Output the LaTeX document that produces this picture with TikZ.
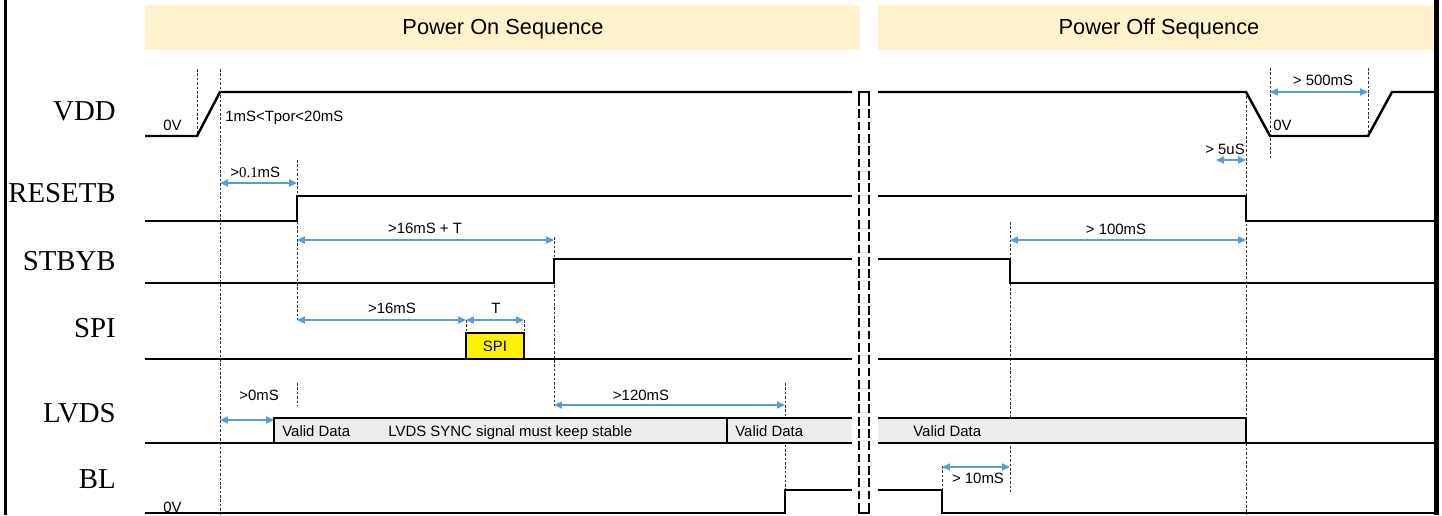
\documentclass[tikz,border=0pt]{standalone}
\usepackage{fontspec}
\setmainfont{Liberation Sans}
\newfontfamily\sigfont{Liberation Serif}
\usetikzlibrary{arrows.meta}
\definecolor{banner}{RGB}{255,242,204}
\definecolor{dimblue}{RGB}{91,155,213}
\definecolor{busgrey}{RGB}{236,236,236}

\begin{document}
\begin{tikzpicture}[x=0.02cm, y=-0.02cm,
    wave/.style={line width=1.4pt, line join=miter},
    guide/.style={line width=0.45pt, dash pattern=on 1.5pt off 1pt, black!80},
    dim/.style={{Triangle[length=4.5pt,width=4pt]}-{Triangle[length=4.5pt,width=4pt]}, dimblue, line width=0.9pt},
    sig/.style={anchor=base east, inner sep=0pt, font=\sigfont\fontsize{16.4}{18}\selectfont},
    lbl/.style={anchor=base, inner sep=0pt, font=\fontsize{8.5}{10}\selectfont},
    brk/.style={line width=1.1pt, dash pattern=on 5pt off 2pt}]
    \useasboundingbox (0,0) rectangle (1442,515);

    % frame and headers
    \draw[line width=2.2pt] (5.5,0) -- (5.5,515);
    \draw[line width=2.8pt] (1436.5,0) -- (1436.5,515);
    \fill[banner] (145,5) rectangle (860,50);
    \fill[banner] (878,5) rectangle (1434,50);
    \node[anchor=base, font=\fontsize{12.4}{14}\selectfont] at (503,34) (on) {Power On Sequence};
    \node[anchor=base, font=\fontsize{12.4}{14}\selectfont] at (1159,34) (off) {Power Off Sequence};

    % signal names
    \node[sig] at (116,120) (vdd) {VDD};
    \node[sig] at (116,202) (rst) {RESETB};
    \node[sig] at (116,270) (stb) {STBYB};
    \node[sig] at (116,337) (spi) {SPI};
    \node[sig] at (116,422) (lvds) {LVDS};
    \node[sig] at (116,488) (bl) {BL};

    % timing guides
    \draw[guide] (197,69) -- (197,136);
    \draw[guide] (220,69) -- (220,515);
    \draw[guide] (297,160) -- (297,320);
    \draw[guide] (297,383) -- (297,406);
    \draw[guide] (466,320) -- (466,333);
    \draw[guide] (524,320) -- (524,333);
    \draw[guide] (554,237) -- (554,406);
    \draw[guide] (785,383) -- (785,490);
    \draw[guide] (942,466) -- (942,490);
    \draw[guide] (1010,222) -- (1010,492);
    \draw[guide] (1246,92) -- (1246,515);
    \draw[guide] (1270,68) -- (1270,159);
    \draw[guide] (1368,68) -- (1368,136);

    % LVDS bus
    \fill[busgrey] (274,418) rectangle (852,443);
    \fill[busgrey] (878,418) rectangle (1246,443);
    \draw[wave] (274,443) -- (274,418) -- (852,418);
    \draw[wave] (727,418) -- (727,443);
    \draw[wave] (145,443) -- (852,443);
    \draw[wave] (878,418) -- (1246,418) -- (1246,443);
    \draw[wave] (878,443) -- (1434,443);

    % waveforms
    \draw[wave] (145,136) -- (197,136) -- (220,92) -- (852,92);
    \draw[wave] (878,92) -- (1246,92) -- (1270,136) -- (1368,136) -- (1392,92) -- (1434,92);
    \draw[wave] (145,221) -- (297,221) -- (297,196) -- (852,196);
    \draw[wave] (878,196) -- (1246,196) -- (1246,221) -- (1434,221);
    \draw[wave] (145,283) -- (554,283) -- (554,259) -- (852,259);
    \draw[wave] (878,259) -- (1010,259) -- (1010,283) -- (1434,283);
    \draw[wave] (145,359) -- (852,359);
    \draw[wave] (878,359) -- (1434,359);
    \draw[wave] (145,513) -- (785,513) -- (785,490) -- (852,490);
    \draw[wave] (878,490) -- (942,490) -- (942,513) -- (1434,513);
    \filldraw[fill=yellow, line width=1.2pt] (466,333) rectangle (524,359);
    \node[font=\fontsize{8.5}{10}\selectfont] at (495,346) (spibox) {SPI};

    % break
    \draw[brk] (859,97) -- (859,508);
    \draw[brk] (869,97) -- (869,508);
    \draw[line width=1.1pt] (859,97) -- (859,92) -- (869,92) -- (869,97);
    \draw[line width=1.1pt] (859,508) -- (859,513) -- (869,513) -- (869,508);

    % intervals
    \draw[dim] (220,183) -- (297,183);
    \draw[dim] (297,240) -- (554,240);
    \draw[dim] (297,320) -- (466,320);
    \draw[dim] (466,320) -- (524,320);
    \draw[dim] (220,420) -- (274,420);
    \draw[dim] (554,405) -- (785,405);
    \draw[dim] (1270,92) -- (1368,92);
    \draw[dim] (1216,160) -- (1246,160);
    \draw[dim] (1010,240) -- (1246,240);
    \draw[dim] (942,467) -- (1010,467);

    % labels
    \node[lbl, anchor=base west] at (163,130) (zv1) {0V};
    \node[lbl, anchor=base west] at (225,121) (tpor) {1mS<Tpor<20mS};
    \node[lbl, anchor=base west] at (230,177) (t01) {>{\sigfont 0.1}mS};
    \node[lbl] at (425,233) (t16t) {>16mS + T};
    \node[lbl] at (392,313) (t16) {>16mS};
    \node[lbl] at (496,313) (tt) {T};
    \node[lbl] at (259,400) (t0) {>0mS};
    \node[lbl] at (641,400) (t120) {>120mS};
    \node[lbl, anchor=base west] at (282,436) (vd1) {Valid Data};
    \node[lbl, anchor=base west] at (388,436) (sync) {LVDS SYNC signal must keep stable};
    \node[lbl, anchor=base west] at (735,436) (vd2) {Valid Data};
    \node[lbl, anchor=base west] at (913,436) (vd3) {Valid Data};
    \node[lbl, anchor=base west] at (163,512) (zv2) {0V};
    \node[lbl] at (1323,85) (t500) {> 500mS};
    \node[lbl, anchor=base west] at (1273,130) (zv3) {0V};
    \node[lbl] at (1225,154) (t5u) {> 5uS};
    \node[lbl] at (1116,234) (t100) {> 100mS};
    \node[lbl] at (978,483) (t10) {> 10mS};
\end{tikzpicture}
\end{document}
